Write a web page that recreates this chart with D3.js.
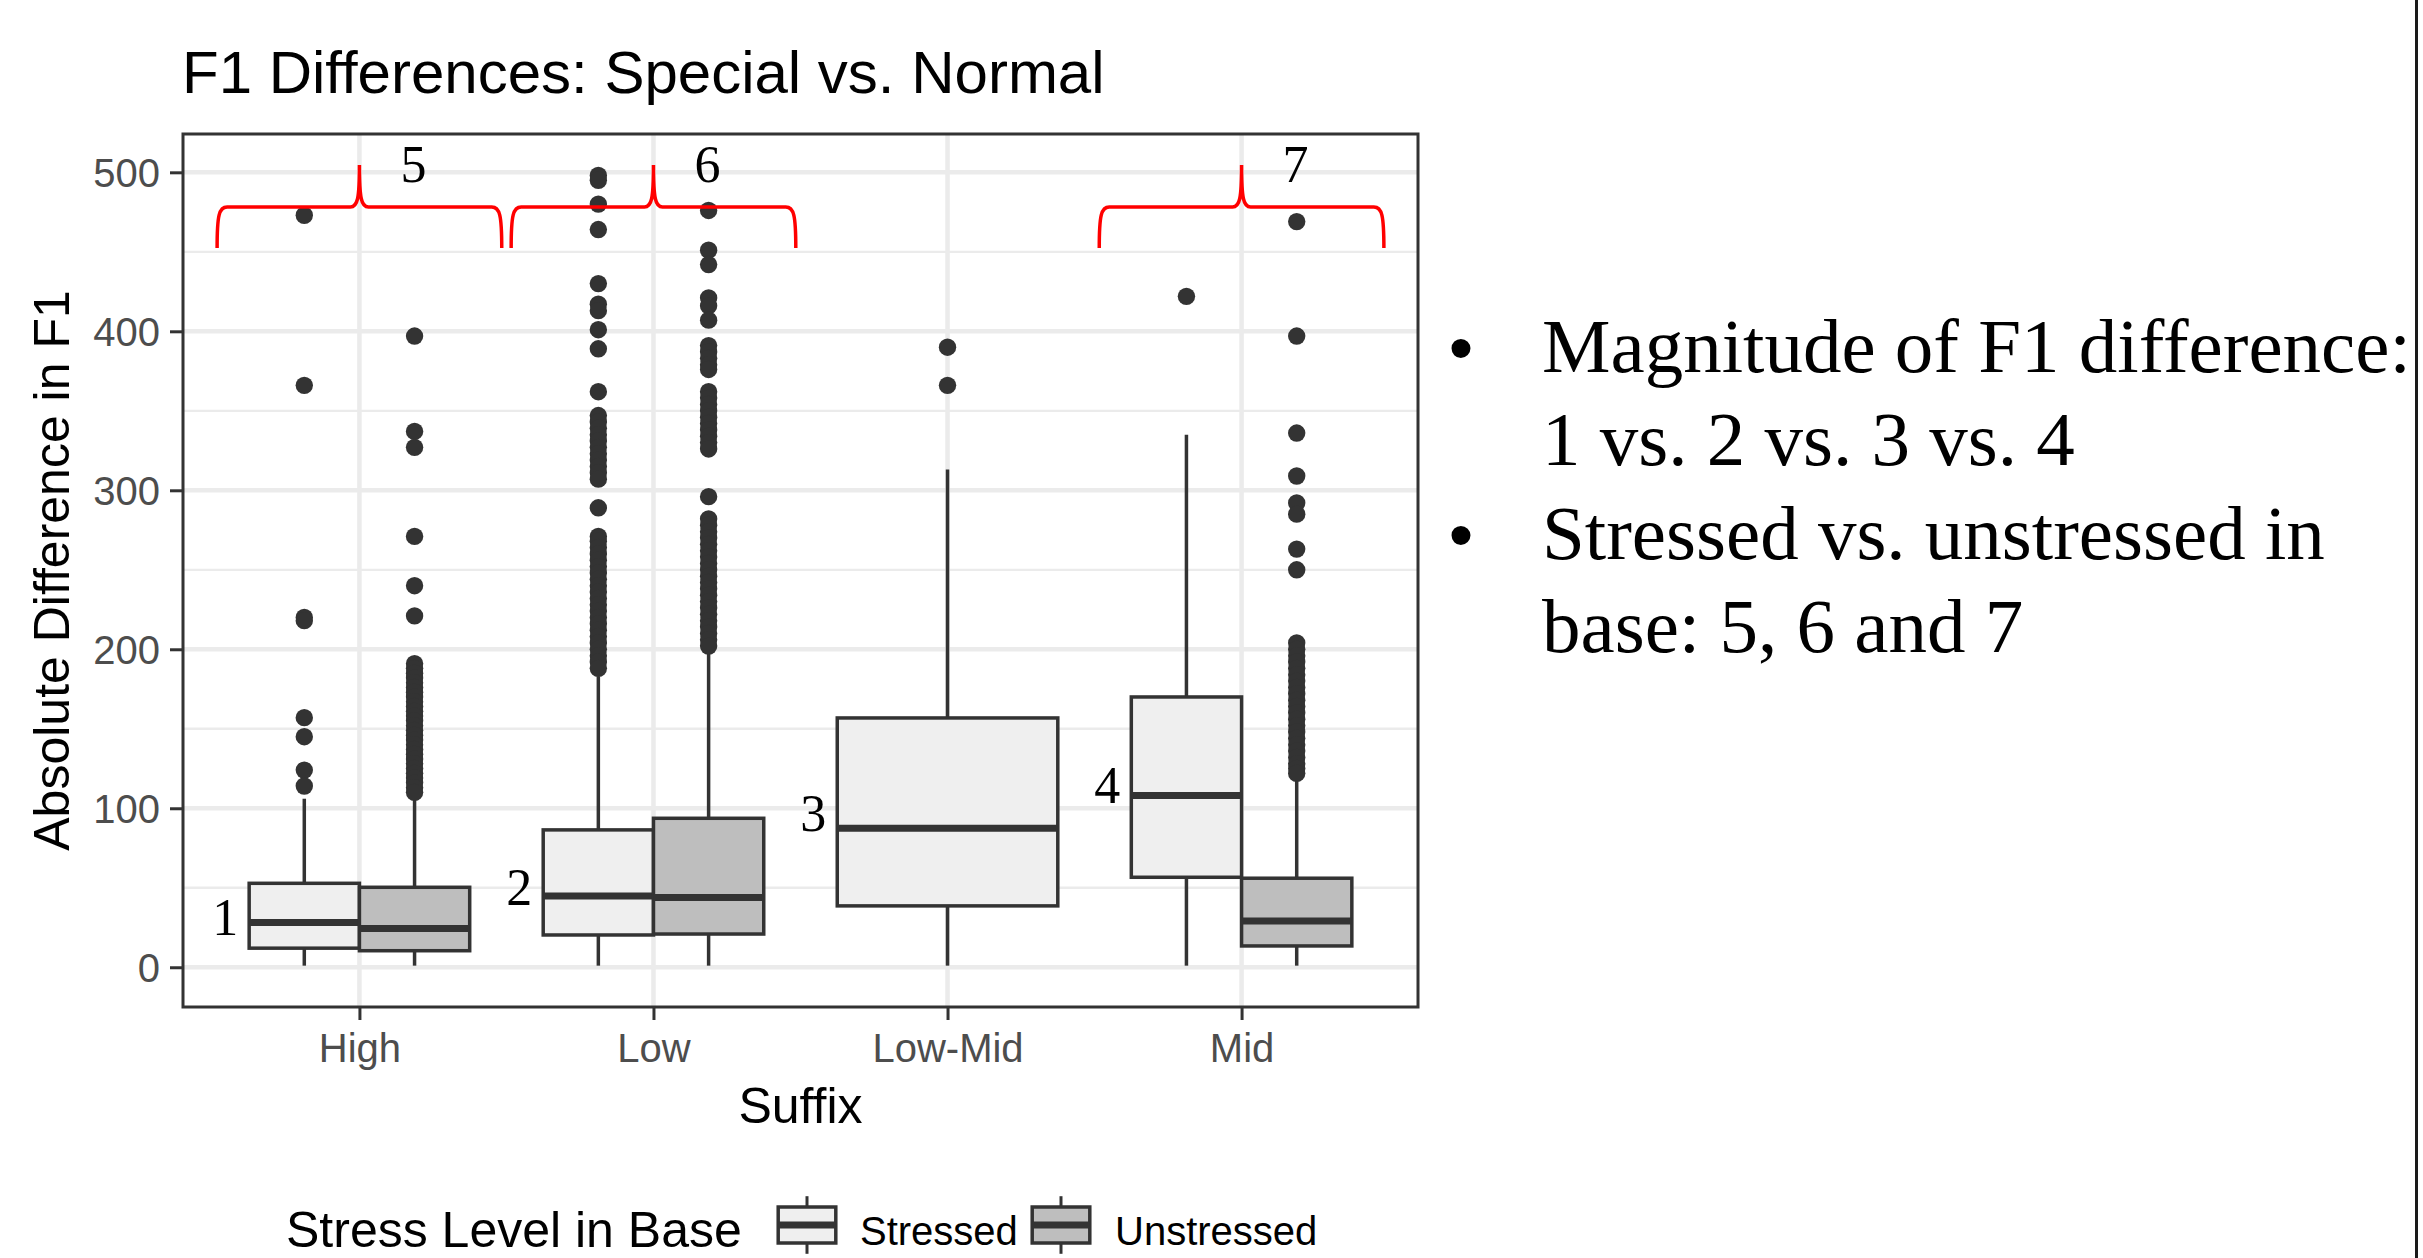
<!DOCTYPE html>
<html><head><meta charset="utf-8">
<script src="https://cdn.jsdelivr.net/npm/d3@7"></script>
<style>body{margin:0;background:#fff;overflow:hidden} svg{display:block}</style>
</head><body>
<svg id="chart" width="2423" height="1258"></svg>
<script>
// ---------------- data ----------------
const categories = ["High", "Low", "Low-Mid", "Mid"];
const groups = ["Stressed", "Unstressed"];
const boxCategory = ["High", "High", "Low", "Low", "Low-Mid", "Mid", "Mid"];
const boxGroup = ["Stressed", "Unstressed", "Stressed", "Unstressed", "Stressed", "Stressed", "Unstressed"];
const whiskerLow  = [1, 1, 1, 1, 1, 1, 1];
const q1          = [12.0, 10.4, 20.3, 20.9, 38.6, 56.6, 13.4];
const median      = [28.1, 24.3, 44.8, 43.8, 87.4, 108.0, 29.1];
const q3          = [52.8, 50.3, 86.4, 93.7, 156.8, 170.0, 56.0];
const whiskerHigh = [106, 108, 183, 199, 313, 335, 118];
const outliers = [
  [473, 366, 220, 218, 157, 145, 124, 114],
  [397, 337, 327, 271, 240, 221, 191, 188, 185, 182, 179, 176, 173, 170, 167, 164, 161, 158, 155, 152, 149, 146, 143, 140, 137, 134, 131, 128, 125, 122, 119, 116, 113, 110],
  [498, 495, 480, 464, 430, 417, 413, 401, 389, 362, 347, 343, 339, 335, 331, 327, 323, 319, 315, 311, 307, 289, 271, 268, 264, 260, 256, 252, 248, 244, 240, 236, 232, 228, 224, 220, 216, 212, 208, 204, 200, 196, 192, 188],
  [476, 451, 442, 421, 416, 407, 391, 387, 383, 379, 376, 362, 358, 354, 350, 346, 342, 338, 334, 330, 326, 296, 282, 278, 274, 270, 266, 262, 258, 254, 250, 246, 242, 238, 234, 230, 226, 222, 218, 214, 210, 206, 202],
  [390, 366],
  [422],
  [469, 397, 336, 309, 292, 285, 263, 250, 204, 200, 196, 192, 188, 184, 180, 176, 172, 168, 164, 160, 156, 152, 148, 144, 140, 136, 132, 128, 125, 122]
];
const yTicks = [0, 100, 200, 300, 400, 500];
const yMinorTicks = [50, 150, 250, 350, 450];
const fillColors = ["#EFEFEF", "#BEBEBE"];
// annotations (numbers placed in data units)
const numLabels = ["1", "2", "3", "4"];
const numLabelCats = ["High", "Low", "Low-Mid", "Mid"];
const numLabelValues = [20, 39, 86, 103];
const braceLabels = ["5", "6", "7"];
const braceCats = ["High", "Low", "Mid"];
const title = "F1 Differences: Special vs. Normal";
const xTitle = "Suffix";
const yTitle = "Absolute Difference in F1";
const legendTitle = "Stress Level in Base";
const notes = [
  {bullet: true,  text: "Magnitude of F1 difference:"},
  {bullet: false, text: "1 vs. 2 vs. 3 vs. 4"},
  {bullet: true,  text: "Stressed vs. unstressed in"},
  {bullet: false, text: "base: 5, 6 and 7"}
];

// ---------------- layout ----------------
const svg = d3.select("#chart");
const P = {left: 183, right: 1418, top: 134, bottom: 1007};
const SANS = "'Liberation Sans', Arial, sans-serif";
const SERIF = "'Liberation Serif', 'Times New Roman', serif";
const dark = "#333333";

const x = d3.scalePoint().domain(categories).range([P.left, P.right]).padding(0.6);
const y = d3.scaleLinear().domain([-25, 524.1]).range([P.bottom, P.top]);
const step = x.step();
const color = d3.scaleOrdinal().domain(groups).range(fillColors);

svg.append("rect").attr("width", 2423).attr("height", 1258).attr("fill", "#fff");

// grid
const grid = svg.append("g");
grid.selectAll(".minor").data(yMinorTicks).join("line")
  .attr("x1", P.left).attr("x2", P.right)
  .attr("y1", d => y(d)).attr("y2", d => y(d))
  .attr("stroke", "#EBEBEB").attr("stroke-width", 2.3);
grid.selectAll(".major").data(yTicks).join("line")
  .attr("x1", P.left).attr("x2", P.right)
  .attr("y1", d => y(d)).attr("y2", d => y(d))
  .attr("stroke", "#EBEBEB").attr("stroke-width", 4.5);
grid.selectAll(".vmajor").data(categories).join("line")
  .attr("x1", d => x(d)).attr("x2", d => x(d))
  .attr("y1", P.top).attr("y2", P.bottom)
  .attr("stroke", "#EBEBEB").attr("stroke-width", 4.5);

// boxes
const boxes = boxCategory.map((c, i) => {
  const n = boxCategory.filter(d => d === c).length;
  const idx = boxCategory.slice(0, i).filter(d => d === c).length;
  const w = 0.75 * step / n;
  const left = x(c) - 0.375 * step + idx * w;
  return {c, g: boxGroup[i], left, w, cx: left + w / 2,
    lo: whiskerLow[i], q1: q1[i], med: median[i], q3: q3[i], hi: whiskerHigh[i], out: outliers[i]};
});

const bg = svg.append("g");
boxes.forEach(b => {
  const g = bg.append("g");
  g.append("line").attr("x1", b.cx).attr("x2", b.cx).attr("y1", y(b.q3)).attr("y2", y(b.hi))
    .attr("stroke", dark).attr("stroke-width", 3.5);
  g.append("line").attr("x1", b.cx).attr("x2", b.cx).attr("y1", y(b.q1)).attr("y2", y(b.lo))
    .attr("stroke", dark).attr("stroke-width", 3.5);
  g.append("rect").attr("x", b.left).attr("width", b.w)
    .attr("y", y(b.q3)).attr("height", y(b.q1) - y(b.q3))
    .attr("fill", color(b.g)).attr("stroke", dark).attr("stroke-width", 3.5);
  g.append("line").attr("x1", b.left).attr("x2", b.left + b.w).attr("y1", y(b.med)).attr("y2", y(b.med))
    .attr("stroke", dark).attr("stroke-width", 7);
  g.selectAll("circle").data(b.out).join("circle")
    .attr("cx", b.cx).attr("cy", d => y(d)).attr("r", 8.7).attr("fill", dark);
});

// panel border
svg.append("rect").attr("x", P.left).attr("y", P.top)
  .attr("width", P.right - P.left).attr("height", P.bottom - P.top)
  .attr("fill", "none").attr("stroke", dark).attr("stroke-width", 3);

// axes
const xAxis = svg.append("g").attr("transform", `translate(0,${P.bottom})`)
  .call(d3.axisBottom(x).tickSize(13).tickPadding(10));
xAxis.select(".domain").remove();
xAxis.selectAll(".tick line").attr("stroke", dark).attr("stroke-width", 3);
xAxis.selectAll(".tick text").attr("font-family", SANS).attr("font-size", 40)
  .attr("fill", "#4D4D4D").attr("dy", null).attr("y", 55);

const yAxis = svg.append("g").attr("transform", `translate(${P.left},0)`)
  .call(d3.axisLeft(y).tickValues(yTicks).tickSize(13).tickPadding(10));
yAxis.select(".domain").remove();
yAxis.selectAll(".tick line").attr("stroke", dark).attr("stroke-width", 3);
yAxis.selectAll(".tick text").attr("font-family", SANS).attr("font-size", 40)
  .attr("fill", "#4D4D4D").attr("dy", "0.35em");

// titles
svg.append("text").attr("x", 182).attr("y", 93).attr("font-family", SANS).attr("font-size", 60)
  .attr("fill", "#000").text(title);
svg.append("text").attr("x", (P.left + P.right) / 2).attr("y", 1123).attr("text-anchor", "middle")
  .attr("font-family", SANS).attr("font-size", 50).attr("fill", "#000").text(xTitle);
svg.append("text").attr("transform", `translate(69,${(P.top + P.bottom) / 2}) rotate(-90)`)
  .attr("text-anchor", "middle").attr("font-family", SANS).attr("font-size", 50)
  .attr("fill", "#000").text(yTitle);

// annotations 1-4
numLabels.forEach((t, i) => {
  const b = boxes.find(d => d.c === numLabelCats[i]);
  svg.append("text").attr("x", b.left - 11).attr("y", y(numLabelValues[i]))
    .attr("text-anchor", "end").attr("font-family", SERIF).attr("font-size", 52)
    .attr("fill", "#000").text(t);
});

// braces 5-7
const bTop = 165, bMid = 207, bBot = 248;
braceLabels.forEach((t, i) => {
  const cx = x(braceCats[i]);
  const half = 0.484 * step;
  const x0 = cx - half, x1 = cx + half;
  const p = d3.path();
  p.moveTo(x0, bBot);
  p.bezierCurveTo(x0, bMid + 8, x0 + 2, bMid, x0 + 10, bMid);
  p.lineTo(cx - 9, bMid);
  p.bezierCurveTo(cx - 2, bMid, cx, bMid - 8, cx, bTop);
  p.bezierCurveTo(cx, bMid - 8, cx + 2, bMid, cx + 9, bMid);
  p.lineTo(x1 - 10, bMid);
  p.bezierCurveTo(x1 - 2, bMid, x1, bMid + 8, x1, bBot);
  svg.append("path").attr("d", p.toString()).attr("fill", "none")
    .attr("stroke", "#FF0000").attr("stroke-width", 3.5);
  svg.append("text").attr("x", cx + 54).attr("y", 182).attr("text-anchor", "middle")
    .attr("font-family", SERIF).attr("font-size", 52).attr("fill", "#000").text(t);
});

// legend (nudged up a little so its texts stay inside the picture)
const legY = 1247;
svg.append("text").attr("x", 286).attr("y", legY).attr("font-family", SANS).attr("font-size", 50)
  .attr("fill", "#000").text(legendTitle);
const keyX = [771, 1025], labelX = [860, 1115];
const kTop = legY - 58, kS = 72;
groups.forEach((g, i) => {
  const kx = keyX[i], kc = kx + kS / 2;
  const k = svg.append("g");
  k.append("line").attr("x1", kc).attr("x2", kc).attr("y1", kTop + 0.1 * kS).attr("y2", kTop + 0.25 * kS)
    .attr("stroke", dark).attr("stroke-width", 3);
  k.append("line").attr("x1", kc).attr("x2", kc).attr("y1", kTop + 0.75 * kS).attr("y2", kTop + 0.9 * kS)
    .attr("stroke", dark).attr("stroke-width", 3);
  k.append("rect").attr("x", kx + 0.1 * kS).attr("y", kTop + 0.25 * kS)
    .attr("width", 0.8 * kS).attr("height", 0.5 * kS)
    .attr("fill", color(g)).attr("stroke", dark).attr("stroke-width", 3.5);
  k.append("line").attr("x1", kx + 0.1 * kS).attr("x2", kx + 0.9 * kS)
    .attr("y1", kTop + 0.5 * kS).attr("y2", kTop + 0.5 * kS)
    .attr("stroke", dark).attr("stroke-width", 7);
  svg.append("text").attr("x", labelX[i]).attr("y", legY - 2).attr("font-family", SANS).attr("font-size", 40)
    .attr("fill", "#000").text(g);
});

// notes on the right
notes.forEach((n, i) => {
  const by = 372 + i * 93.3;
  if (n.bullet) {
    svg.append("text").attr("x", 1461).attr("y", by).attr("text-anchor", "middle")
      .attr("font-family", SANS).attr("font-size", 70).attr("fill", "#000").text("\u2022");
  }
  svg.append("text").attr("x", 1542).attr("y", by).attr("font-family", SERIF).attr("font-size", 77)
    .attr("fill", "#000").text(n.text);
});

// right vertical rule
svg.append("line").attr("x1", 2416.5).attr("x2", 2416.5).attr("y1", 0).attr("y2", 1258)
  .attr("stroke", "#1a1a1a").attr("stroke-width", 3);
</script>
</body></html>
